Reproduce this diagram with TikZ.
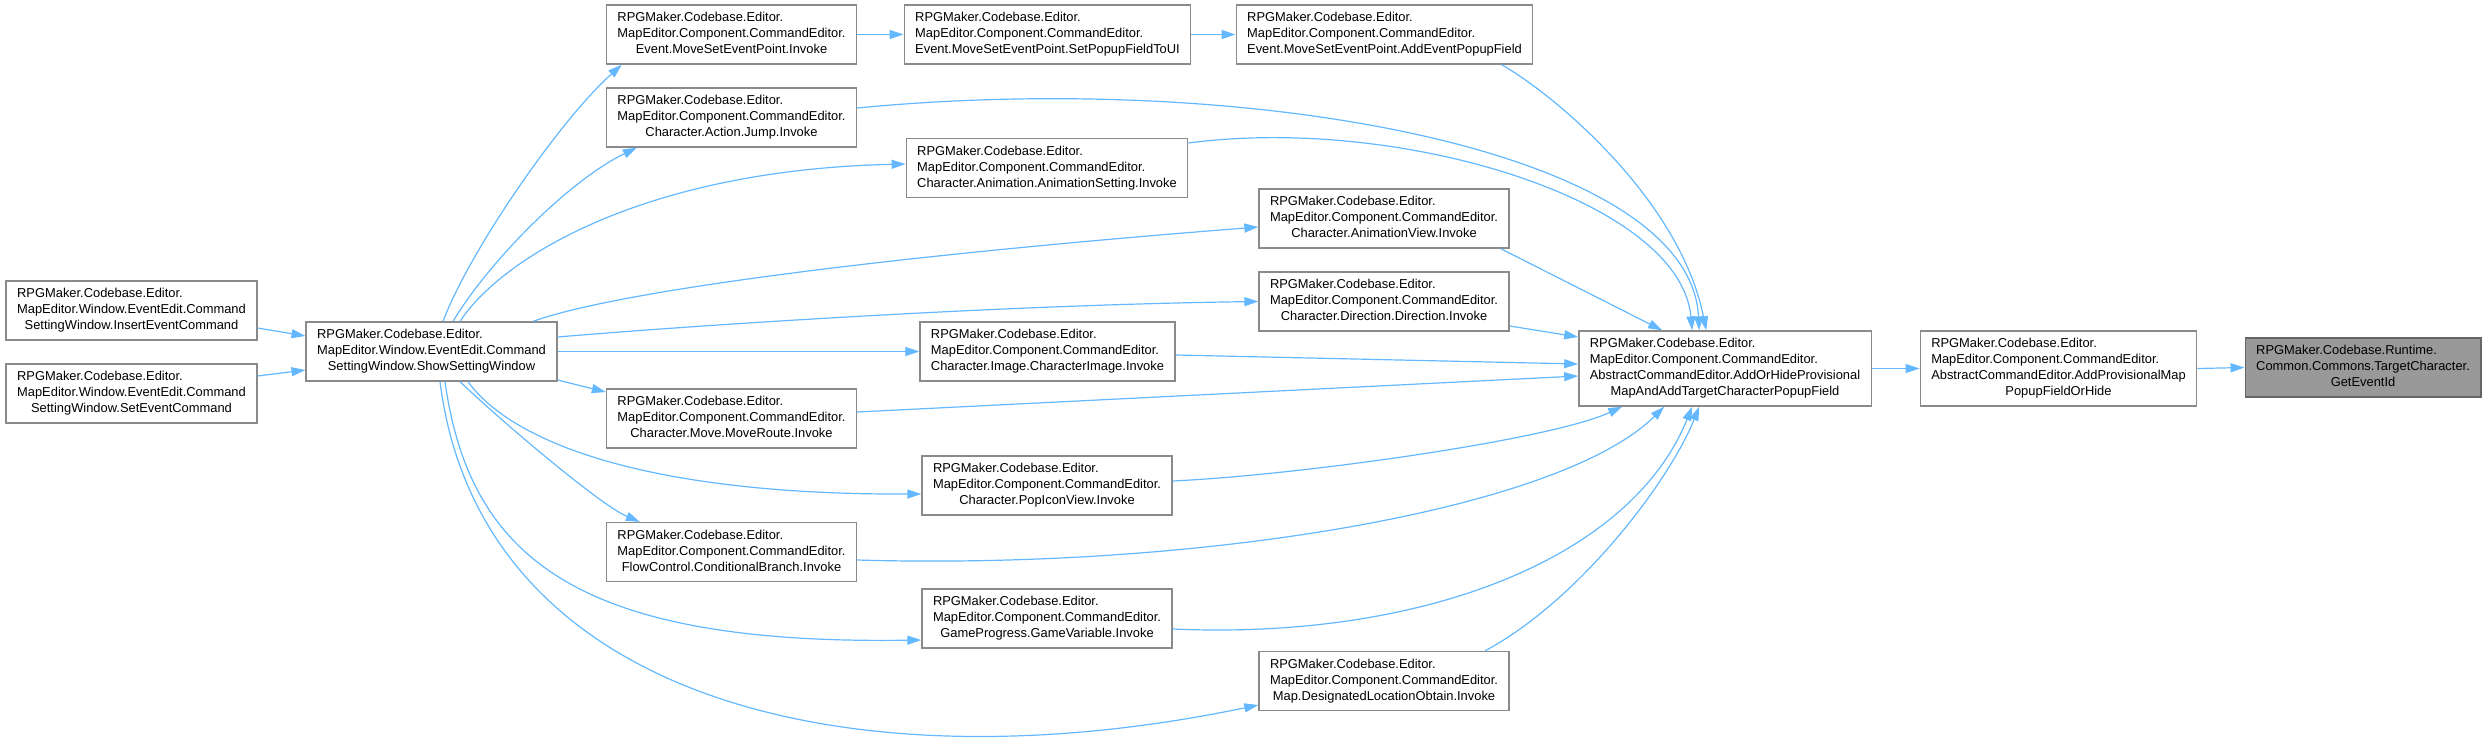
\documentclass[tikz,border=0pt]{standalone}
\usepackage{fontspec}
\setmainfont{Liberation Sans}
\usepackage{xcolor}
\definecolor{edgeblue}{HTML}{63B8FF}
\definecolor{boxline}{HTML}{8A8A8A}
\definecolor{rootline}{HTML}{666666}
\definecolor{rootfill}{HTML}{999999}
\usepackage{tikz}
\usetikzlibrary{arrows.meta, positioning}
\newcommand{\fnlabel}[3]{\begin{tabular}{@{}l@{}}#1\\#2\\\multicolumn{1}{@{}c@{}}{#3}\end{tabular}}
\newcommand{\fnlabelfour}[4]{\begin{tabular}{@{}l@{}}#1\\#2\\#3\\\multicolumn{1}{@{}c@{}}{#4}\end{tabular}}

\begin{document}
\begin{tikzpicture}[
    x=1pt, y=-1pt,
    fn/.style={
        rectangle, draw=boxline, line width=1.3pt, fill=white,
        inner xsep=11pt, inner ysep=5.5pt,
        font=\fontsize{12.9}{16}\selectfont
    },
    root/.style={fn, draw=rootline, fill=rootfill},
    call/.style={-{Triangle[length=14pt,width=9pt]}, draw=edgeblue, line width=1.2pt}
]
\useasboundingbox (0,0) rectangle (2486,744);

\node[fn] (A) at (131.5,310.5) {\fnlabel{RPGMaker.Codebase.Editor.}{MapEditor.Window.EventEdit.Command}{SettingWindow.InsertEventCommand}};
\node[fn] (B) at (131.5,393.5) {\fnlabel{RPGMaker.Codebase.Editor.}{MapEditor.Window.EventEdit.Command}{SettingWindow.SetEventCommand}};
\node[fn] (C) at (431.5,351.5) {\fnlabel{RPGMaker.Codebase.Editor.}{MapEditor.Window.EventEdit.Command}{SettingWindow.ShowSettingWindow}};

\node[fn] (D) at (731.5,34.5)  {\fnlabel{RPGMaker.Codebase.Editor.}{MapEditor.Component.CommandEditor.}{Event.MoveSetEventPoint.Invoke}};
\node[fn] (E) at (1047.5,34.5) {\fnlabel{RPGMaker.Codebase.Editor.}{MapEditor.Component.CommandEditor.}{Event.MoveSetEventPoint.SetPopupFieldToUI}};
\node[fn] (F) at (1384.5,34.5) {\fnlabel{RPGMaker.Codebase.Editor.}{MapEditor.Component.CommandEditor.}{Event.MoveSetEventPoint.AddEventPopupField}};
\node[fn] (G) at (731.5,117.5) {\fnlabel{RPGMaker.Codebase.Editor.}{MapEditor.Component.CommandEditor.}{Character.Action.Jump.Invoke}};
\node[fn] (H) at (1047,168)    {\fnlabel{RPGMaker.Codebase.Editor.}{MapEditor.Component.CommandEditor.}{Character.Animation.AnimationSetting.Invoke}};
\node[fn] (I) at (1384,218.5)  {\fnlabel{RPGMaker.Codebase.Editor.}{MapEditor.Component.CommandEditor.}{Character.AnimationView.Invoke}};
\node[fn] (J) at (1384,301.5)  {\fnlabel{RPGMaker.Codebase.Editor.}{MapEditor.Component.CommandEditor.}{Character.Direction.Direction.Invoke}};
\node[fn] (K) at (1047.5,351.5) {\fnlabel{RPGMaker.Codebase.Editor.}{MapEditor.Component.CommandEditor.}{Character.Image.CharacterImage.Invoke}};
\node[fn] (L) at (731.5,418.5) {\fnlabel{RPGMaker.Codebase.Editor.}{MapEditor.Component.CommandEditor.}{Character.Move.MoveRoute.Invoke}};
\node[fn] (M) at (1047,485.5)  {\fnlabel{RPGMaker.Codebase.Editor.}{MapEditor.Component.CommandEditor.}{Character.PopIconView.Invoke}};
\node[fn] (N) at (731.5,552)   {\fnlabel{RPGMaker.Codebase.Editor.}{MapEditor.Component.CommandEditor.}{FlowControl.ConditionalBranch.Invoke}};
\node[fn] (O) at (1047,618.5)  {\fnlabel{RPGMaker.Codebase.Editor.}{MapEditor.Component.CommandEditor.}{GameProgress.GameVariable.Invoke}};
\node[fn] (P) at (1384,681)    {\fnlabel{RPGMaker.Codebase.Editor.}{MapEditor.Component.CommandEditor.}{Map.DesignatedLocationObtain.Invoke}};

\node[fn] (Q) at (1725,368.5) {\fnlabelfour{RPGMaker.Codebase.Editor.}{MapEditor.Component.CommandEditor.}{AbstractCommandEditor.AddOrHideProvisional}{MapAndAddTargetCharacterPopupField}};
\node[fn] (R) at (2058.5,368.5) {\fnlabelfour{RPGMaker.Codebase.Editor.}{MapEditor.Component.CommandEditor.}{AbstractCommandEditor.AddProvisionalMap}{PopupFieldOrHide}};
\node[root] (S) at (2363,367.5) {\fnlabel{RPGMaker.Codebase.Runtime.}{Common.Commons.TargetCharacter.}{GetEventId}};

\draw[call] ([yshift=-17.5pt]A.east) -- ([yshift=15.5pt]C.west);
\draw[call] ([yshift=17.5pt]B.east) -- ([yshift=-18.5pt]C.west);

\draw[call] ([xshift=11.5pt]C.north) .. controls (470,250) and (560,120) .. ([xshift=16pt]D.south west);
\draw[call] ([xshift=21.5pt]C.north) .. controls (490,260) and (570,180) .. ([xshift=31pt]G.south west);
\draw[call] ([xshift=28.5pt]C.north) .. controls (500,260) and (640,170) .. ([yshift=4pt]H.west);
\draw[call] ([xshift=101.5pt]C.north) .. controls (620,290) and (900,255) .. ([yshift=-8.5pt]I.west);
\draw[call] ([yshift=14.5pt]C.east) .. controls (700,325) and (1000,305) .. (J.west);
\draw[call] (C.east) -- (K.west);
\draw[call] ([yshift=-28.5pt]C.east) -- ([yshift=26.5pt]L.west);
\draw[call] ([xshift=36.5pt]C.south) .. controls (510,440) and (640,495) .. ([yshift=-8.5pt]M.west);
\draw[call] ([xshift=28.5pt]C.south) .. controls (500,420) and (600,505) .. ([xshift=34pt]N.north west);
\draw[call] ([xshift=13.5pt]C.south) .. controls (470,560) and (580,645) .. ([yshift=-21.5pt]O.west);
\draw[call] ([xshift=8.5pt]C.south) .. controls (480,700) and (850,790) .. ([yshift=-24pt]P.west);

\draw[call] (D.east) -- (E.west);
\draw[call] (E.east) -- (F.west);

\draw[call] ([xshift=-32pt]F.south east) .. controls (1555,95) and (1680,200) .. ([xshift=128pt]Q.north west);
\draw[call] ([yshift=9.5pt]G.east) .. controls (1250,70) and (1690,150) .. ([xshift=121pt]Q.north west);
\draw[call] ([yshift=25pt]H.east) .. controls (1400,115) and (1680,200) .. ([xshift=114pt]Q.north west);
\draw[call] ([xshift=-9pt]I.south east) -- ([xshift=84pt]Q.north west);
\draw[call] ([yshift=-24.5pt]J.east) -- ([yshift=31.5pt]Q.west);
\draw[call] ([yshift=-3.5pt]K.east) -- ([yshift=4.5pt]Q.west);
\draw[call] ([yshift=6.5pt]L.east) -- ([yshift=-7.5pt]Q.west);
\draw[call] ([yshift=4.5pt]M.east) .. controls (1300,475) and (1550,440) .. ([xshift=44pt]Q.south west);
\draw[call] ([yshift=-8pt]N.east) .. controls (1200,570) and (1560,510) .. ([xshift=86pt]Q.south west);
\draw[call] ([yshift=-10.5pt]O.east) .. controls (1420,640) and (1630,560) .. ([xshift=114pt]Q.south west);
\draw[call] ([xshift=101pt]P.north) .. controls (1580,600) and (1670,480) .. ([xshift=121pt]Q.south west);

\draw[call] (Q.east) -- (R.west);
\draw[call] (R.east) -- (S.west);
\end{tikzpicture}
\end{document}
